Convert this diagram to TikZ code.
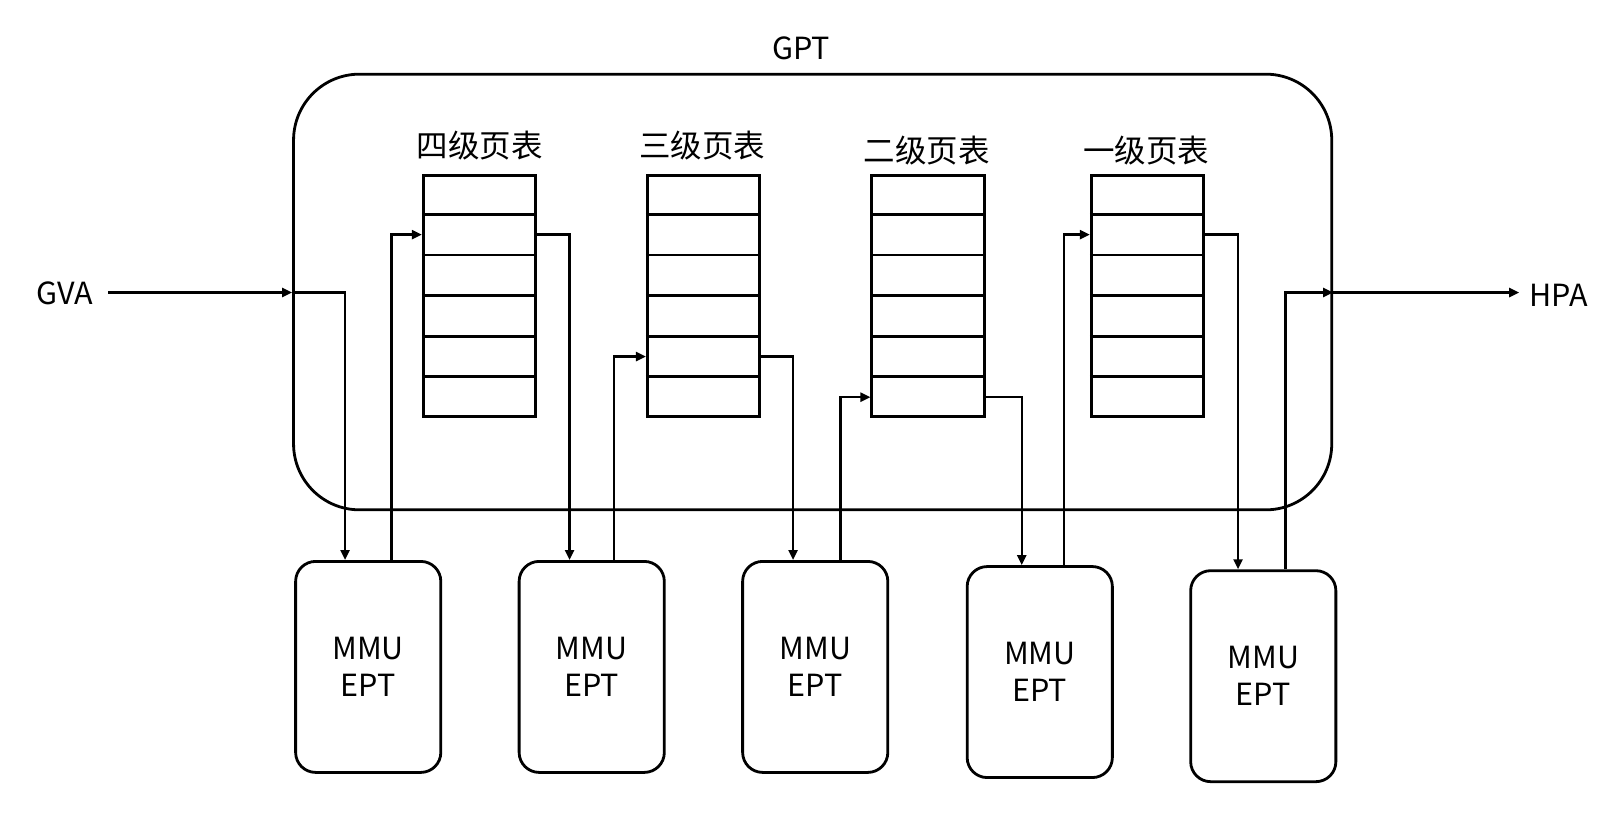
\documentclass[tikz,border=0pt]{standalone}
\usepackage{fontspec}
\setmainfont{Noto Sans CJK SC}
\usetikzlibrary{arrows.meta,calc}
\begin{document}
\begin{tikzpicture}[x=1.03pt,y=-1.03pt,
  conn/.style={line width=2.4pt,-{Triangle[length=10pt,width=9pt]}},
  ptable/.style={draw,line width=2.8pt,minimum width=112.3pt,minimum height=241pt,inner sep=0pt},
  mmu/.style={draw,line width=2.8pt,rounded corners=20pt,minimum width=145.2pt,minimum height=211pt,inner sep=0pt,
     align=center,font=\fontsize{30.5pt}{37pt}\selectfont},
  gptbox/.style={draw,line width=2.8pt,rounded corners=66pt,minimum width=1038.2pt,minimum height=435.7pt,inner sep=0pt},
  lbl/.style={font=\fontsize{30.5pt}{36pt}\selectfont,inner sep=0pt},
  cjk/.style={font=\fontsize{31.5pt}{36pt}\selectfont,inner sep=0pt}]
\useasboundingbox (0,0) rectangle (1568,812);

% GPT container
\node[gptbox] (gpt) at (789,283.5) {};
\node[lbl] (gptlabel) at (778,47) {GPT};

% page tables
\node[ptable] (t4) at (465.5,287) {};
\node[ptable] (t3) at (683,287) {};
\node[ptable] (t2) at (901,287) {};
\node[ptable] (t1) at (1114,287) {};
\foreach \t in {t4,t3,t2,t1}{
  \foreach \i in {1,...,5}{
    \draw[line width=2.8pt] ($(\t.north west)!\i/6!(\t.south west)$) -- ($(\t.north east)!\i/6!(\t.south east)$);
  }
}
\node[cjk] (l4) at (466,141) {四级页表};
\node[cjk] (l3) at (682,141) {三级页表};
\node[cjk] (l2) at (900,146) {二级页表};
\node[cjk] (l1) at (1113,146) {一级页表};

% MMU boxes
\node[mmu] (m1) at (357.5,647.5) {MMU\\EPT};
\node[mmu] (m2) at (574.5,647.5) {MMU\\EPT};
\node[mmu] (m3) at (791.5,647.5) {MMU\\EPT};
\node[mmu] (m4) at (1009.5,652.5) {MMU\\EPT};
\node[mmu] (m5) at (1226.5,656.5) {MMU\\EPT};

% labels
\node[lbl] (gva) at (63,285) {GVA};
\node[lbl] (hpa) at (1513,287) {HPA};

% entry / exit coordinates on tables
\coordinate (t4in)  at ($(t4.north west)!0.25!(t4.south west)$);
\coordinate (t4out) at ($(t4.north east)!0.25!(t4.south east)$);
\coordinate (t3in)  at ($(t3.north west)!0.75!(t3.south west)$);
\coordinate (t3out) at ($(t3.north east)!0.75!(t3.south east)$);
\coordinate (t2in)  at ($(t2.north west)!0.9167!(t2.south west)$);
\coordinate (t2out) at ($(t2.north east)!0.9167!(t2.south east)$);
\coordinate (t1in)  at ($(t1.north west)!0.25!(t1.south west)$);
\coordinate (t1out) at ($(t1.north east)!0.25!(t1.south east)$);
\coordinate (gin)  at (gpt.west |- 0,284);
\coordinate (gout) at (gpt.east |- 0,284);
\coordinate (gvaend) at (105,284);
\coordinate (hpaend) at (1475,284);

% connectors
\draw[conn] (gvaend) -- (gin);
\draw[conn] (gin) -| ($(m1.north)+(-22.5,0)$);
\draw[conn] ($(m1.north)+(22.5,0)$) |- (t4in);
\draw[conn] (t4out) -| ($(m2.north)+(-21.5,0)$);
\draw[conn] ($(m2.north)+(21.5,0)$) |- (t3in);
\draw[conn] (t3out) -| ($(m3.north)+(-21.5,0)$);
\draw[conn] ($(m3.north)+(24.5,0)$) |- (t2in);
\draw[conn] (t2out) -| ($(m4.north)+(-17.5,0)$);
\draw[conn] ($(m4.north)+(23.5,0)$) |- (t1in);
\draw[conn] (t1out) -| ($(m5.north)+(-24.5,0)$);
\draw[conn] ($(m5.north)+(21.5,0)$) |- (gout);
\draw[conn] (gout) -- (hpaend);
\end{tikzpicture}
\end{document}
